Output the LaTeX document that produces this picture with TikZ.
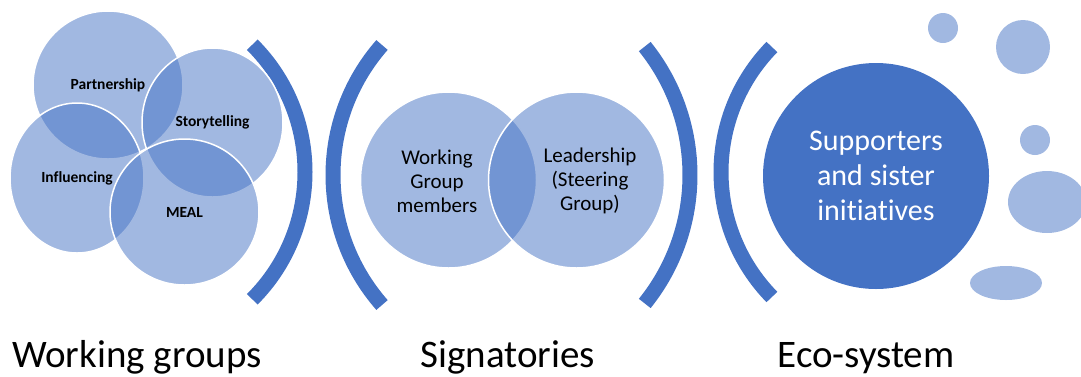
\documentclass[tikz,border=0pt]{standalone}
\usepackage{fontspec}
\setmainfont{Carlito}[Ligatures=NoCommon]
\usetikzlibrary{positioning,shapes.geometric}
\definecolor{accent}{HTML}{4472C4}

\begin{document}
\begin{tikzpicture}[x=1pt,y=-1pt]
  \useasboundingbox (0,0) rectangle (1081,376);
  % brackets
  \begin{scope}[every path/.style={draw=accent, line width=15pt}]
    \draw (125,172) ++(-45:180) arc[start angle=-45, end angle=45, radius=180];
    \draw (530,175) ++(-138.7:197) arc[start angle=-138.7, end angle=-221.3, radius=197];
    \draw (485,175) ++(-38.8:205) arc[start angle=-38.8, end angle=38.8, radius=205];
    \draw (900,172) ++(-135.7:179) arc[start angle=-135.7, end angle=-224.3, radius=179];
  \end{scope}
  % working groups
  \begin{scope}[every node/.style={ellipse,inner sep=0pt,fill=accent,fill opacity=0.5,
      text opacity=1,draw=white,line width=1.5pt,font=\fontsize{15.5}{18}\selectfont\bfseries}]
    \node[minimum width=150pt, minimum height=148pt] (Part) at (108,85) {Partnership};
    \node[minimum width=134pt, minimum height=150pt] (Infl) at (77,178) {Influencing};
    \node[minimum width=141pt, minimum height=149pt] (Story) at (212.5,122.5) {Storytelling};
    \node[minimum width=149pt, minimum height=146pt] (Meal) at (184.5,212) {MEAL};
  \end{scope}
  % signatories
  \begin{scope}[every node/.style={circle,inner sep=0pt,minimum size=176pt,fill=accent,
      fill opacity=0.5,text opacity=1,draw=white,line width=1.5pt}]
    \node (WG) at (448.5,180) {};
    \node (Lead) at (576.5,180) {};
  \end{scope}
  \begin{scope}[every node/.style={align=center,font=\fontsize{21}{24}\selectfont}]
    \node (WGtext) at (437,181) {Working\\Group\\members};
    \node (Leadtext) at (590,181) {Leadership\\(Steering\\Group)};
  \end{scope}
  % eco-system
  \node[circle,inner sep=0pt,minimum size=226pt,fill=accent,text=white,align=center,
    font=\fontsize{30}{35}\selectfont] (Eco) at (876,176) {Supporters\\and sister\\initiatives};
  \begin{scope}[every node/.style={ellipse,inner sep=0pt,fill=accent,fill opacity=0.5}]
    \node[minimum width=30pt, minimum height=30pt] (b1) at (943,28) {};
    \node[minimum width=54pt, minimum height=54pt] (b2) at (1023,47) {};
    \node[minimum width=30pt, minimum height=30pt] (b3) at (1035,140) {};
    \node[minimum width=78pt, minimum height=62pt] (b4) at (1047,202) {};
    \node[minimum width=72pt, minimum height=34pt] (b5) at (1006,283) {};
  \end{scope}
  % captions
  \begin{scope}[every node/.style={anchor=base,font=\fontsize{39}{44}\selectfont}]
    \node (capWG) at (137,367) {Working groups};
    \node (capSig) at (508,367) {Signatories};
    \node (capEco) at (866,367) {Eco-system};
  \end{scope}
\end{tikzpicture}
\end{document}
